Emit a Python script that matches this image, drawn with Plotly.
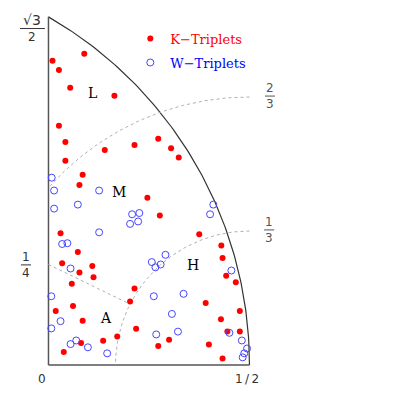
import numpy as np
import plotly.graph_objects as go

# K-triplets (filled red)
k_x = [0.089, 0.010, 0.026, 0.054, 0.164, 0.026, 0.042, 0.140, 0.214, 0.273,
       0.305, 0.324, 0.042, 0.085, 0.077, 0.246, 0.277, 0.030, 0.073, 0.034,
       0.109, 0.077, 0.112, 0.058, 0.214, 0.203, 0.018, 0.061, 0.085, 0.218,
       0.171, 0.136, 0.081, 0.038, 0.273, 0.375, 0.430, 0.433, 0.442, 0.466,
       0.391, 0.476, 0.429, 0.445, 0.476, 0.300, 0.399, 0.433]
k_y = [0.774, 0.757, 0.734, 0.690, 0.670, 0.595, 0.555, 0.535, 0.547, 0.563,
       0.539, 0.516, 0.508, 0.473, 0.448, 0.416, 0.372, 0.328, 0.281, 0.253,
       0.246, 0.230, 0.218, 0.202, 0.190, 0.158, 0.134, 0.147, 0.110, 0.090,
       0.071, 0.060, 0.055, 0.032, 0.047, 0.325, 0.297, 0.266, 0.222, 0.206,
       0.154, 0.134, 0.114, 0.083, 0.083, 0.063, 0.051, 0.016]

# W-triplets (open blue)
w_x = [0.008, 0.014, 0.126, 0.014, 0.073, 0.208, 0.226, 0.203, 0.223, 0.126,
       0.034, 0.047, 0.291, 0.257, 0.279, 0.266, 0.055, 0.410, 0.402, 0.455,
       0.007, 0.262, 0.030, 0.007, 0.069, 0.055, 0.098, 0.146, 0.268, 0.336,
       0.307, 0.322, 0.450, 0.481, 0.494, 0.487, 0.483]
w_y = [0.466, 0.434, 0.434, 0.389, 0.399, 0.375, 0.378, 0.351, 0.357, 0.330,
       0.301, 0.303, 0.274, 0.256, 0.250, 0.243, 0.240, 0.399, 0.375, 0.235,
       0.171, 0.171, 0.109, 0.091, 0.061, 0.052, 0.044, 0.029, 0.076, 0.177,
       0.127, 0.083, 0.080, 0.061, 0.041, 0.029, 0.019]

region_labels = ["L", "M", "H", "A"]
region_x = [0.110, 0.175, 0.360, 0.143]
region_y = [0.676, 0.431, 0.249, 0.116]

# boundary geometry
OUTER_CENTER, OUTER_R = -0.5, 1.0
INNER_CENTER = 0.5
INNER_R = [2 / 3, 1 / 3]
SPLIT_Y0 = 0.25
SPLIT_ANGLE = np.radians(153)

AXIS_COLOR = '#555555'
DOT_COLOR = '#b0b0b0'
TEXT_COLOR = '#333333'

fig = go.Figure()

# outer boundary arc
t = np.linspace(0, np.pi / 3, 120)
fig.add_trace(go.Scatter(x=OUTER_CENTER + OUTER_R * np.cos(t), y=OUTER_R * np.sin(t),
                         mode='lines', line=dict(color='#333333', width=1.2),
                         hoverinfo='skip', showlegend=False))
# left and bottom edges
fig.add_trace(go.Scatter(x=[0, 0, None, 0, 0.5], y=[0, np.sqrt(3) / 2, None, 0, 0],
                         mode='lines', line=dict(color=AXIS_COLOR, width=1.5),
                         hoverinfo='skip', showlegend=False))

# dotted level arcs centred on (1/2, 0)
for r in INNER_R:
    t_end = np.pi - np.arccos(min(0.5 / r, 1.0))
    t = np.linspace(np.pi / 2, t_end, 100)
    fig.add_trace(go.Scatter(x=INNER_CENTER + r * np.cos(t), y=r * np.sin(t),
                             mode='lines', line=dict(color=DOT_COLOR, width=1, dash='dot'),
                             hoverinfo='skip', showlegend=False))

# dotted split line between M and A
sx = INNER_CENTER + INNER_R[1] * np.cos(SPLIT_ANGLE)
sy = INNER_R[1] * np.sin(SPLIT_ANGLE)
fig.add_trace(go.Scatter(x=[0, sx], y=[SPLIT_Y0, sy], mode='lines',
                         line=dict(color=DOT_COLOR, width=1, dash='dot'),
                         hoverinfo='skip', showlegend=False))

fig.add_trace(go.Scatter(
    x=k_x, y=k_y, mode='markers', legendgroup='k',
    marker=dict(symbol='circle', size=6, color='red'),
    name='<span style="color:red">K\u2212Triplets</span>'))
fig.add_trace(go.Scatter(
    x=w_x, y=w_y, mode='markers', legendgroup='w',
    marker=dict(symbol='circle-open', size=7, color='rgb(70,70,255)', line=dict(width=1)),
    name='<span style="color:blue">W\u2212Triplets</span>'))

for lab, lx, ly in zip(region_labels, region_x, region_y):
    fig.add_annotation(x=lx, y=ly, text=lab, showarrow=False,
                       font=dict(family='DejaVu Serif', size=14, color='black'))


def add_fraction(xc, ybar, num, den, half_w, color=TEXT_COLOR, size=12):
    # numerator sits on the bar, denominator hangs below it
    fig.add_annotation(x=xc, y=ybar, text=num, showarrow=False, yanchor='bottom',
                       borderpad=0, font=dict(family='DejaVu Sans', size=size, color=color))
    fig.add_annotation(x=xc, y=ybar, text=den, showarrow=False, yanchor='top',
                       borderpad=0, font=dict(family='DejaVu Sans', size=12, color=color))
    fig.add_shape(type='line', x0=xc - half_w, x1=xc + half_w, y0=ybar, y1=ybar,
                  line=dict(color=color, width=1))


add_fraction(-0.040, 0.837, '\u221a3', '2', 0.031, size=14)
add_fraction(-0.056, 0.249, '1', '4', 0.0125)
add_fraction(0.551, 0.669, '2', '3', 0.0125, color='#555555')
add_fraction(0.549, 0.336, '1', '3', 0.0125, color='#555555')

fig.add_annotation(x=-0.017, y=-0.035, text='0', showarrow=False,
                   font=dict(family='DejaVu Sans', size=12, color=TEXT_COLOR))
fig.add_annotation(x=0.493, y=-0.035, text='1\u2009/\u20092', showarrow=False,
                   font=dict(family='DejaVu Sans', size=12, color=TEXT_COLOR))

# the page body adds an 8px margin, so the figure is 401px and the ranges
# are chosen so that one data unit spans about 402px on both axes
fig.update_layout(
    width=401, height=401,
    margin=dict(l=0, r=0, t=0, b=0),
    paper_bgcolor='white', plot_bgcolor='white',
    xaxis=dict(visible=False, range=[-0.1007, 0.8968]),
    yaxis=dict(visible=False, range=[-0.1095, 0.8881]),
    showlegend=True,
    legend=dict(x=0.305, y=0.961, xanchor='left', yanchor='top',
                bgcolor='rgba(0,0,0,0)', tracegroupgap=4, itemwidth=30,
                font=dict(family='DejaVu Serif', size=13)),
    hovermode='closest',
)

fig.write_html("out.html")
